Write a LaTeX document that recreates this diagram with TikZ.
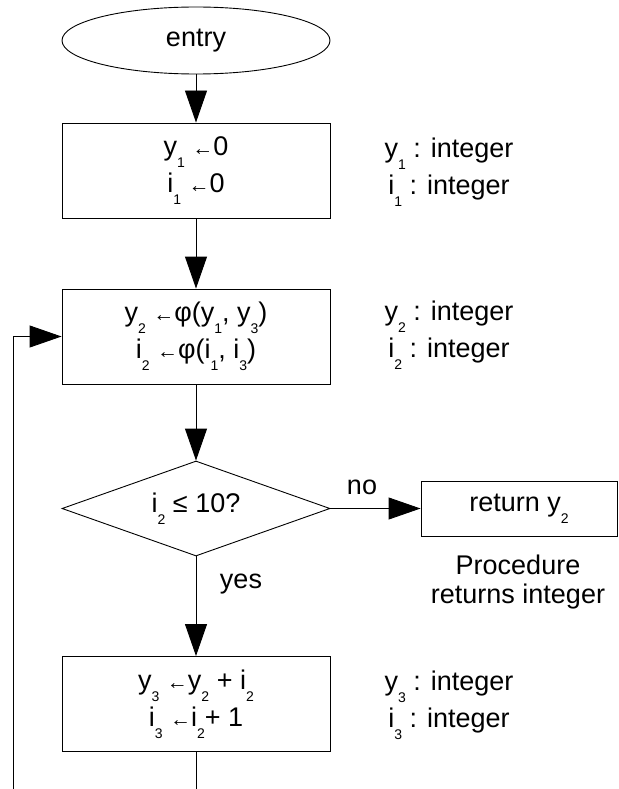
\documentclass[tikz,border=0pt]{standalone}
\usepackage{fontspec}
\setmainfont{Liberation Sans}
\usetikzlibrary{shapes.geometric,arrows.meta}
\newcommand\mysub[1]{\raisebox{-0.45em}{\fontsize{14}{14}\selectfont #1}}
\newcommand\myarr{{\fontsize{21}{21}\selectfont ←}}
\begin{document}
\begin{tikzpicture}[x=1pt,y=-1pt,
  every node/.style={font=\fontsize{27}{37}\selectfont, inner sep=0pt},
  line/.style={draw=black, line width=0.9pt},
  flow/.style={line, -{Triangle[length=32pt,width=22pt]}},
  stepbox/.style={draw, line width=0.9pt, rectangle, minimum width=268pt, minimum height=95pt, align=center},
  lbl/.style={align=center},
]
\useasboundingbox (0,0) rectangle (618,789);

\node[draw, line width=0.9pt, ellipse, minimum width=268pt, minimum height=67pt] (entry) at (196,40.5) {entry};

\node[stepbox] (b1) at (196,170.5) {y\mysub{1} \myarr 0\\ i\mysub{1} \myarr 0};
\node[stepbox] (b2) at (196,336.5) {y\mysub{2} \myarr φ(y\mysub{1}, y\mysub{3})\\ i\mysub{2} \myarr φ(i\mysub{1}, i\mysub{3})};
\node[draw, line width=0.9pt, diamond, aspect=2.8, minimum width=268pt, minimum height=95pt] (dec) at (196,508.5) {i\mysub{2} ≤ 10?};
\node[draw, line width=0.9pt, rectangle, minimum width=196pt, minimum height=55pt] (ret) at (519,508.5) {return y\mysub{2}};
\node[stepbox] (b4) at (196,704) {y\mysub{3} \myarr y\mysub{2} + i\mysub{2}\\ i\mysub{3} \myarr i\mysub{2}+ 1};

\node[lbl] (t1) at (449,172.5) {y\mysub{1} : integer\\ i\mysub{1} : integer};
\node[lbl] (t2) at (449,335) {y\mysub{2} : integer\\ i\mysub{2} : integer};
\node[lbl] (t3) at (449,705) {y\mysub{3} : integer\\ i\mysub{3} : integer};
\node[lbl, font=\fontsize{27}{29}\selectfont] (proc) at (518,582) {Procedure\\ returns integer};

\node (no) at (362,487) {no};
\node (yes) at (241,584) {yes};

\coordinate (bot) at (196,789);
\coordinate (lb) at (13,789);

\draw[flow] (entry) -- (b1);
\draw[flow] (b1) -- (b2);
\draw[flow] (b2) -- (dec);
\draw[flow] (dec) -- (b4);
\draw[flow] (dec.east) -- (ret.west);
\draw[line] (b4.south) -- (bot);
\draw[flow] (lb) |- (b2.west);
\end{tikzpicture}
\end{document}
